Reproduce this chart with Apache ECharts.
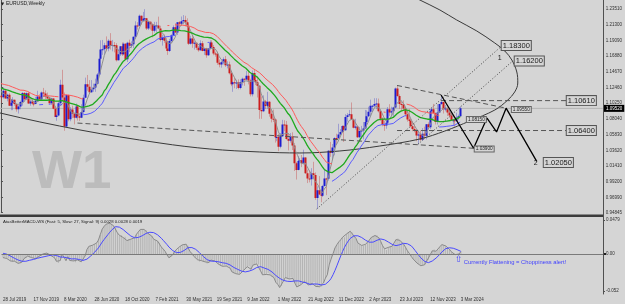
<!DOCTYPE html>
<html><head><meta charset="utf-8">
<script src="https://cdn.jsdelivr.net/npm/echarts@6/dist/echarts.min.js"></script>
<style>html,body{margin:0;padding:0;background:#d5d5d5}#c{width:625px;height:304px}</style>
</head><body><div id="c"></div><script>
// ---- warm-up weeks (Mar-Jul 2019, off screen, only feed the indicators) ----
const warmOpen  = [1.1365,1.1235,1.1325,1.1305,1.1220,1.1215,1.1300,1.1245,1.1150,1.1200,1.1235,1.1160,1.1205,1.1170,1.1330,1.1210,1.1370,1.1370,1.1225,1.1270,1.1220];
const warmHigh  = [1.1375,1.1340,1.1450,1.1325,1.1255,1.1325,1.1325,1.1265,1.1265,1.1265,1.1265,1.1215,1.1215,1.1350,1.1350,1.1385,1.1410,1.1380,1.1285,1.1285,1.1230];
const warmLow   = [1.1176,1.1210,1.1270,1.1210,1.1185,1.1210,1.1225,1.1110,1.1135,1.1165,1.1150,1.1105,1.1115,1.1160,1.1200,1.1180,1.1345,1.1205,1.1195,1.1200,1.1100];
const warmClose = [1.1235,1.1325,1.1305,1.1220,1.1215,1.1300,1.1245,1.1150,1.1200,1.1235,1.1160,1.1205,1.1170,1.1330,1.1210,1.1370,1.1370,1.1225,1.1270,1.1220,1.1125];

// ---- visible weekly bars: 28 Jul 2019 ... 3 Mar 2024 ----
const open = [
1.1130,1.1110,1.1200,1.1090,1.1145,1.0990,1.1030,1.1075,1.1015,1.0940,1.0980,1.1040,1.1170,1.1080,1.1165,1.1020,1.1050,1.1020,1.1015,1.1060,1.1120,1.1080,1.1175,
1.1160,1.1120,1.1090,1.1025,1.1090,1.0945,1.0830,1.0850,1.1025,1.1285,1.1105,1.0695,1.1140,1.0800,1.0935,1.0875,1.0820,1.0980,1.0840,1.0820,1.0900,1.1100,1.1290,1.1255,1.1180,1.1220,1.1245,1.1300,1.1430,1.1650,1.1780,1.1785,1.1840,1.1795,1.1905,1.1835,1.1845,1.1840,1.1630,1.1715,1.1825,1.1715,1.1860,1.1645,1.1875,1.1835,1.1855,1.1960,1.2120,1.2115,1.2255,1.2185,
1.2215,1.2220,1.2075,1.2170,1.2135,1.2045,1.2120,1.2120,1.2075,1.1915,1.1955,1.1905,1.1795,1.1760,1.1900,1.1980,1.2095,1.2020,1.2165,1.2145,1.2180,1.2195,1.2165,1.2105,1.1860,1.1935,1.1865,1.1875,1.1805,1.1770,1.1870,1.1760,1.1795,1.1700,1.1795,1.1880,1.1815,1.1725,1.1720,1.1595,1.1570,1.1600,1.1645,1.1560,1.1570,1.1445,1.1290,1.1320,1.1315,1.1315,1.1240,1.1320,
1.1370,1.1360,1.1410,1.1345,1.1150,1.1450,1.1350,1.1320,1.1270,1.0930,1.0910,1.1050,1.0985,1.1045,1.0875,1.0805,1.0795,1.0545,1.0550,1.0410,1.0560,1.0725,1.0720,1.0520,1.0495,1.0555,1.0430,1.0180,1.0085,1.0210,1.0220,1.0180,1.0260,1.0040,0.9965,0.9955,1.0040,1.0015,0.9690,0.9800,0.9740,0.9720,0.9860,0.9965,0.9960,1.0355,1.0325,1.0400,1.0535,1.0530,1.0585,1.0620,
1.0705,1.0645,1.0830,1.0855,1.0870,1.0795,1.0680,1.0695,1.0545,1.0635,1.0640,1.0670,1.0760,1.0840,1.0905,1.0990,1.0990,1.1015,1.1020,1.0910,1.0805,1.0720,1.0710,1.0750,1.0940,1.0895,1.0910,1.0965,1.1230,1.1125,1.1015,1.1005,1.0950,1.0870,1.0795,1.0775,1.0700,1.0660,1.0645,1.0570,1.0585,1.0510,1.0595,1.0565,1.0730,1.0685,1.0910,1.0940,1.0885,1.0760,1.0895,1.1015,1.1040,
1.0940,1.0950,1.0895,1.0850,1.0785,1.0785,1.0775,1.0820,1.0840];
const high = [
1.1140,1.1250,1.1230,1.1160,1.1165,1.1085,1.1110,1.1075,1.1025,1.0998,1.1060,1.1180,1.1180,1.1175,1.1180,1.1070,1.1095,1.1030,1.1115,1.1200,1.1150,1.1190,1.1240,
1.1205,1.1175,1.1100,1.1100,1.1095,1.0965,1.0865,1.1055,1.1355,1.1495,1.1175,1.1145,1.1145,1.0970,1.0990,1.0890,1.1020,1.0990,1.0880,1.1010,1.1145,1.1385,1.1422,1.1350,1.1350,1.1300,1.1370,1.1450,1.1655,1.1910,1.1915,1.1875,1.1965,1.1925,1.2011,1.1915,1.1885,1.1870,1.1790,1.1830,1.1880,1.1880,1.1870,1.1890,1.1920,1.1895,1.1965,1.2178,1.2165,1.2273,1.2260,1.2310,
1.2349,1.2225,1.2190,1.2175,1.2150,1.2170,1.2170,1.2243,1.2115,1.1990,1.1990,1.1945,1.1800,1.1930,1.1995,1.2120,1.2150,1.2165,1.2180,1.2245,1.2265,1.2255,1.2220,1.2145,1.1975,1.1975,1.1895,1.1880,1.1830,1.1910,1.1900,1.1805,1.1805,1.1800,1.1910,1.1910,1.1845,1.1750,1.1750,1.1640,1.1625,1.1670,1.1690,1.1615,1.1610,1.1465,1.1330,1.1385,1.1355,1.1360,1.1360,1.1385,
1.1375,1.1480,1.1480,1.1370,1.1485,1.1495,1.1395,1.1395,1.1275,1.1120,1.1135,1.1070,1.1185,1.1055,1.0925,1.0935,1.0810,1.0640,1.0595,1.0605,1.0790,1.0785,1.0775,1.0600,1.0605,1.0615,1.0465,1.0200,1.0280,1.0255,1.0295,1.0370,1.0265,1.0090,1.0080,1.0110,1.0200,1.0050,0.9855,0.9999,0.9810,0.9875,1.0095,0.9975,1.0365,1.0480,1.0450,1.0545,1.0595,1.0735,1.0660,1.0715,
1.0715,1.0870,1.0885,1.0930,1.1035,1.0805,1.0805,1.0705,1.0690,1.0705,1.0760,1.0930,1.0925,1.0975,1.1075,1.1000,1.1095,1.1095,1.1090,1.0930,1.0825,1.0780,1.0785,1.0970,1.1010,1.0975,1.0975,1.1245,1.1275,1.1150,1.1045,1.1065,1.0965,1.0930,1.0945,1.0800,1.0770,1.0735,1.0660,1.0640,1.0640,1.0675,1.0695,1.0730,1.0755,1.0915,1.0965,1.1015,1.0895,1.1010,1.1015,1.1140,1.1045,
1.1000,1.0970,1.0930,1.0895,1.0805,1.0805,1.0890,1.0865,1.0981];
const low = [
1.1027,1.1090,1.1090,1.1050,1.0985,1.0926,1.0927,1.0990,1.0905,1.0879,1.0940,1.0990,1.1070,1.1075,1.1015,1.0990,1.1015,1.0980,1.1010,1.1040,1.1065,1.1065,1.1125,
1.1085,1.1085,1.1020,1.1000,1.0940,1.0830,1.0777,1.0840,1.1015,1.1055,1.0636,1.0690,1.0770,1.0770,1.0815,1.0727,1.0810,1.0780,1.0775,1.0815,1.0870,1.1095,1.1200,1.1170,1.1170,1.1185,1.1185,1.1300,1.1420,1.1640,1.1705,1.1710,1.1755,1.1755,1.1780,1.1755,1.1740,1.1612,1.1625,1.1690,1.1690,1.1700,1.1640,1.1605,1.1745,1.1800,1.1800,1.1925,1.2060,1.2110,1.2130,1.2180,
1.2195,1.2055,1.2055,1.2060,1.1952,1.2020,1.2020,1.2070,1.1895,1.1835,1.1875,1.1760,1.1705,1.1745,1.1870,1.1975,1.2015,1.1985,1.2050,1.2115,1.2135,1.2105,1.2095,1.1845,1.1850,1.1805,1.1780,1.1775,1.1750,1.1765,1.1755,1.1705,1.1665,1.1690,1.1780,1.1800,1.1700,1.1680,1.1565,1.1530,1.1525,1.1570,1.1535,1.1515,1.1430,1.1265,1.1185,1.1235,1.1225,1.1220,1.1220,1.1275,
1.1270,1.1350,1.1290,1.1120,1.1120,1.1340,1.1280,1.1105,1.0805,1.0805,1.0900,1.0945,1.0945,1.0835,1.0755,1.0760,1.0470,1.0490,1.0350,1.0390,1.0550,1.0630,1.0510,1.0360,1.0470,1.0365,1.0070,0.9950,1.0080,1.0100,1.0125,1.0160,1.0030,0.9900,0.9910,0.9865,0.9955,0.9665,0.9535,0.9730,0.9630,0.9705,0.9850,0.9730,0.9935,1.0270,1.0225,1.0290,1.0445,1.0525,1.0575,1.0615,
1.0480,1.0635,1.0765,1.0835,1.0795,1.0670,1.0655,1.0535,1.0530,1.0525,1.0515,1.0665,1.0715,1.0830,1.0830,1.0910,1.0965,1.0940,1.0895,1.0775,1.0700,1.0635,1.0665,1.0730,1.0845,1.0835,1.0835,1.0955,1.1115,1.0945,1.0910,1.0915,1.0845,1.0765,1.0770,1.0685,1.0630,1.0615,1.0490,1.0448,1.0495,1.0495,1.0520,1.0515,1.0655,1.0660,1.0850,1.0880,1.0725,1.0725,1.0890,1.1000,1.0880,
1.0910,1.0845,1.0820,1.0780,1.0720,1.0695,1.0760,1.0795,1.0835];
const close = [
1.1110,1.1200,1.1090,1.1145,1.0990,1.1030,1.1075,1.1015,1.0940,1.0980,1.1040,1.1170,1.1080,1.1165,1.1020,1.1050,1.1020,1.1015,1.1060,1.1120,1.1080,1.1175,1.1160,
1.1120,1.1090,1.1025,1.1090,1.0945,1.0830,1.0850,1.1025,1.1285,1.1105,1.0695,1.1140,1.0800,1.0935,1.0875,1.0820,1.0980,1.0840,1.0820,1.0900,1.1100,1.1290,1.1255,1.1180,1.1220,1.1245,1.1300,1.1430,1.1650,1.1780,1.1785,1.1840,1.1795,1.1905,1.1835,1.1845,1.1840,1.1630,1.1715,1.1825,1.1715,1.1860,1.1645,1.1875,1.1835,1.1855,1.1960,1.2120,1.2115,1.2255,1.2185,1.2215,
1.2220,1.2075,1.2170,1.2135,1.2045,1.2120,1.2120,1.2075,1.1915,1.1955,1.1905,1.1795,1.1760,1.1900,1.1980,1.2095,1.2020,1.2165,1.2145,1.2180,1.2195,1.2165,1.2105,1.1860,1.1935,1.1865,1.1875,1.1805,1.1770,1.1870,1.1760,1.1795,1.1700,1.1795,1.1880,1.1815,1.1725,1.1720,1.1595,1.1570,1.1600,1.1645,1.1560,1.1570,1.1445,1.1290,1.1320,1.1315,1.1315,1.1240,1.1320,1.1370,
1.1360,1.1410,1.1345,1.1150,1.1450,1.1350,1.1320,1.1270,1.0930,1.0910,1.1050,1.0985,1.1045,1.0875,1.0805,1.0795,1.0545,1.0550,1.0410,1.0560,1.0725,1.0720,1.0520,1.0495,1.0555,1.0430,1.0180,1.0085,1.0210,1.0220,1.0180,1.0260,1.0040,0.9965,0.9955,1.0040,1.0015,0.9690,0.9800,0.9740,0.9720,0.9860,0.9965,0.9960,1.0355,1.0325,1.0400,1.0535,1.0530,1.0585,1.0620,1.0705,
1.0645,1.0830,1.0855,1.0870,1.0795,1.0680,1.0695,1.0545,1.0635,1.0640,1.0670,1.0760,1.0840,1.0905,1.0990,1.0990,1.1015,1.1020,1.0910,1.0805,1.0720,1.0710,1.0750,1.0940,1.0895,1.0910,1.0965,1.1230,1.1125,1.1015,1.1005,1.0950,1.0870,1.0795,1.0775,1.0700,1.0660,1.0645,1.0570,1.0585,1.0510,1.0595,1.0565,1.0730,1.0685,1.0910,1.0940,1.0885,1.0760,1.0895,1.1015,1.1040,1.0940,
1.0950,1.0895,1.0850,1.0785,1.0785,1.0775,1.0820,1.0840,1.0952];

const dateLabels = ['28 Jul 2019','17 Nov 2019','8 Mar 2020','28 Jun 2020','18 Oct 2020','7 Feb 2021','30 May 2021','19 Sep 2021','9 Jan 2022','1 May 2022','21 Aug 2022','11 Dec 2022','2 Apr 2023','23 Jul 2023','12 Nov 2023','3 Mar 2024'];
const priceTicks = [1.23510,1.21300,1.19090,1.16880,1.14670,1.12460,1.10250,1.08040,1.05830,1.03620,1.01410,0.99200,0.96990,0.94845];
const macdTicks = [0.0479, 0, -0.052];
const macdTickLabels = ['0.0479', '0.00', '-0.052'];
const bidPrice = 1.0952;
const macdTitle = 'AtasBetterMACD-WS (Fast: 5, Slow: 27, Signal: 9) 0.0028 0.0028 0.0019';

// ---- hand-drawn analysis objects, in (week index, price) ----
const ellipseArc = [[-16.2,1.1014],[-0.5,1.0887],[41.3,1.0648],[83.1,1.0464],[109.2,1.0380],[135.3,1.0338],[156.2,1.0324],[177.1,1.0352],[198.0,1.0422],[218.9,1.0521],[232.0,1.0633],[245.0,1.0774],[258.1,1.0929],[264.9,1.1070],[268.5,1.1183],[270.1,1.1309],[269.6,1.1464],[267.0,1.1633],[263.3,1.1760],[258.1,1.1872],[248.7,1.2041],[238.2,1.2196],[229.4,1.2337],[218.9,1.2478],[208.5,1.2619]];
const supportLine = [[40,1.0745],[247,1.0390]];
const resistLine  = [[207,1.1275],[264,1.0955]];
const levelHigh   = [[230,1.1061],[295.7,1.1061]];
const levelLow    = [[207,1.0640],[295.7,1.0640]];
const channelA    = [[165,0.9535],[261.7,1.1830]];
const channelB    = [[218,1.0448],[267.5,1.1620]];
const zigzag      = [[230,1.1140],[247,1.0390],[254,1.0815],[259,1.0620],[264,1.0955],[280,1.0205]];
const boxLabels   = [['1.18300',261.7,1.1837],['1.16200',268.5,1.1619],['1.10610',295.7,1.1061],['1.06400',295.7,1.0640],['1.02050',283.7,1.0190]];
const smallLabels = [['1.09550',267,1.0936],['1.08150',243.5,1.0795],['1.03900',247.6,1.0380]];
const waveLabels  = [['1',260.7,1.166],['2',279.4,1.0179]];
const macdNote = 'Currently Flattening = Choppiness alert!';

const N_CAT = 315;
const F = 'Liberation Sans';

function sma(a,n){return a.map((_,i)=>{if(i<n-1)return null;let s=0;for(let k=i-n+1;k<=i;k++)s+=a[k];return s/n;});}
function ema(a,n){const k=2/(n+1);let e=a[0];return a.map((v,i)=>{e=i===0?v:v*k+e*(1-k);return e;});}

const W = warmClose.length;
const fC = warmClose.concat(close), fH = warmHigh.concat(high), fL = warmLow.concat(low);
const midFull = sma(fC,21);
const mid = midFull.slice(W), maH = sma(fH,21).slice(W), maL = sma(fL,21).slice(W), fast = sma(fC,5).slice(W);
const e5 = ema(fC,5), e27 = ema(fC,27);
const macdFull = e5.map((v,i)=>v-e27[i]);
const sigFull = sma(macdFull,9);
const macd = macdFull.slice(W), signal = sigFull.slice(W);

// trend state of the middle line (2-bar slope) decides which band line is drawn
const slope = j => { const a = midFull[j+W], b = midFull[j+W-2]; return (a==null||b==null) ? 0 : a-b; };
const falling = j => j>=0 && j<mid.length && slope(j) < 0;
const rising  = j => j>=0 && j<mid.length && slope(j) > 0;
const redData  = mid.map((v,i)=> (falling(i)||falling(i+1)) ? [i,maH[i]] : [i,'-']);
const blueData = mid.map((v,i)=> (rising(i)||rising(i+1)) ? [i,maL[i]] : [i,'-']);

const cats = Array.from({length:N_CAT},(_,i)=>String(i));
const showIdx = (i)=> i%16===0 && i/16 < dateLabels.length;

function lineS(data, color, width, type, extra){
  return Object.assign({type:'line', xAxisIndex:0, yAxisIndex:0, data, symbol:'none', silent:true, animation:false,
    lineStyle:{color, width, type}, z:5}, extra||{});
}

const option = {
  backgroundColor:'#d5d5d5',
  animation:false,
  grid:[{left:0, top:0, width:603, height:212.6},{left:0, top:218, width:603, height:76}],
  xAxis:[
    {type:'value', gridIndex:0, min:-0.5, max:N_CAT-0.5, show:false},
    {type:'category', gridIndex:1, data:cats, boundaryGap:true,
      axisLine:{lineStyle:{color:'#505050'}},
      axisTick:{interval:(i)=>showIdx(i), alignWithLabel:true, length:2, lineStyle:{color:'#505050'}},
      axisLabel:{interval:(i)=>showIdx(i), formatter:(v,i)=>dateLabels[i/16]||'', fontSize:4.5, fontFamily:F, color:'#303030', align:'left', margin:3},
      splitLine:{show:false}}
  ],
  yAxis:[
    {type:'value', gridIndex:0, position:'right', min:0.94845, max:1.24777, scale:true,
      axisLine:{show:true, lineStyle:{color:'#505050'}},
      axisTick:{show:true, length:2, customValues:priceTicks, lineStyle:{color:'#505050'}},
      axisLabel:{customValues:priceTicks, formatter:v=>Number(v).toFixed(5), fontSize:4.5, fontFamily:F, color:'#303030', margin:3},
      splitLine:{show:false}},
    {type:'value', gridIndex:1, position:'right', min:-0.0564, max:0.0507,
      axisLine:{show:true, lineStyle:{color:'#505050'}},
      axisTick:{show:true, length:2, customValues:macdTicks, lineStyle:{color:'#505050'}},
      axisLabel:{customValues:macdTicks, formatter:v=>{const k=macdTicks.findIndex(t=>Math.abs(t-v)<1e-9);return k>=0?macdTickLabels[k]:'';}, fontSize:4.5, fontFamily:F, color:'#303030', margin:3},
      splitLine:{show:false}}
  ],
  series:[
    lineS([[-0.5,bidPrice],[N_CAT-0.5,bidPrice]], '#b4b4b4', 1, 'solid', {z:1}),
    {type:'custom', xAxisIndex:0, yAxisIndex:0, z:3, clip:true,
      data: close.map((c,i)=>[i, open[i], high[i], low[i], c]),
      encode:{x:0, y:[1,2,3,4]},
      renderItem:(params, api)=>{
        const i=api.value(0), o=api.value(1), h=api.value(2), l=api.value(3), c=api.value(4);
        const ph=api.coord([i,h]), pl=api.coord([i,l]), po=api.coord([i,o]), pc=api.coord([i,c]);
        const up = c>=o;
        const x = Math.round(ph[0]);
        const top=Math.min(po[1],pc[1]), bot=Math.max(po[1],pc[1]);
        return {type:'group', children:[
          {type:'line', shape:{x1:x+0.5,y1:ph[1],x2:x+0.5,y2:pl[1]}, style:{stroke: up?'rgba(90,90,200,0.45)':'rgba(200,80,80,0.45)', lineWidth:1}},
          {type:'rect', shape:{x:x-0.5, y:top, width:2, height:Math.max(1,bot-top)}, style:{fill: up?'#1c1cd0':'#cc1c1c'}}
        ]};
      }},
    lineS(fast.map((v,i)=>[i,v]), '#8e8e8e', 1, 'solid'),
    lineS(redData, '#ff5a5a', 1, 'solid'),
    lineS(blueData, '#5a5aff', 1, 'solid'),
    lineS(mid.map((v,i)=>[i,v]), '#1faa1f', 1.3, 'solid'),
    lineS(ellipseArc, '#3a3a3a', 1, 'solid', {smooth:0.35, z:4}),
    lineS(supportLine, '#555555', 1, [5,3]),
    lineS(resistLine, '#555555', 1, [5,3]),
    lineS(levelHigh, '#555555', 1, [5,3]),
    lineS(levelLow, '#555555', 1, [5,3]),
    lineS(channelA, '#444444', 1, [1,2]),
    lineS(channelB, '#444444', 1, [1,2]),
    lineS(zigzag, '#000000', 1.3, 'solid', {z:6}),
    // MACD panel
    {type:'bar', xAxisIndex:1, yAxisIndex:1, data:macd, barWidth:1, silent:true,
      itemStyle:{color:'#b4b4b4'},
      markLine:{silent:true, symbol:'none', label:{show:false}, data:[{yAxis:0}], lineStyle:{color:'#7a7a7a', type:'solid', width:1}}},
    {type:'line', xAxisIndex:1, yAxisIndex:1, data:macd, symbol:'none', silent:true, lineStyle:{color:'#8a8a8a', width:1}},
    {type:'line', xAxisIndex:1, yAxisIndex:1, data:signal, symbol:'none', silent:true, lineStyle:{color:'#4a4aff', width:1}}
  ]
};

const chart = echarts.init(document.getElementById('c'), null, {renderer:'canvas'});
chart.setOption(option);

const px = p => chart.convertToPixel({xAxisIndex:0, yAxisIndex:0}, p);
const g = [];
g.push({type:'text', z:0, x:32, y:173, style:{text:'W1', fill:'#bcbcbc', font:'bold 53px "Liberation Sans"', verticalAlign:'middle'}});
g.push({type:'text', z:50, x:1, y:3.5, style:{text:'▼', fill:'#202020', fontSize:4, fontFamily:'DejaVu Sans', verticalAlign:'middle'}});
g.push({type:'text', z:50, x:6, y:3.5, style:{text:'EURUSD,Weekly', fill:'#202020', fontSize:5, fontFamily:F, verticalAlign:'middle'}});
g.push({type:'rect', z:50, shape:{x:0, y:214.5, width:603, height:2.5}, style:{fill:'#3c3c3c'}});
g.push({type:'line', z:50, shape:{x1:603.5, y1:0, x2:603.5, y2:294}, style:{stroke:'#505050', lineWidth:1}});
g.push({type:'text', z:50, x:3, y:221.5, style:{text:macdTitle, fill:'#202020', fontSize:4.3, fontFamily:F, verticalAlign:'middle'}});
const bp = px([0, bidPrice]);
g.push({type:'text', z:60, x:604, y:bp[1], style:{text:bidPrice.toFixed(5), fill:'#ffffff', fontSize:4.5, fontFamily:F, backgroundColor:'#000000', padding:[1,2,1,2], verticalAlign:'middle'}});
boxLabels.forEach(([t,i,p])=>{const q=px([i,p]); g.push({type:'text', z:60, x:q[0], y:q[1], style:{text:t, fill:'#1a1a1a', fontSize:7.5, fontFamily:F, backgroundColor:'#d5d5d5', borderColor:'#555555', borderWidth:1, padding:[1,1,0,1], verticalAlign:'middle'}});});
smallLabels.forEach(([t,i,p])=>{const q=px([i,p]); g.push({type:'text', z:60, x:q[0], y:q[1], style:{text:t, fill:'#1a1a1a', fontSize:4.7, fontFamily:F, backgroundColor:'#d5d5d5', borderColor:'#666666', borderWidth:1, padding:[0,1,0,1], verticalAlign:'middle'}});});
waveLabels.forEach(([t,i,p])=>{const q=px([i,p]); g.push({type:'text', z:60, x:q[0], y:q[1], style:{text:t, fill:'#1a1a1a', fontSize:7, fontFamily:F, align:'center', verticalAlign:'middle'}});});
const mp = chart.convertToPixel({xAxisIndex:1, yAxisIndex:1}, [240, 0]);
g.push({type:'text', z:60, x:mp[0]-2, y:mp[1]+6, style:{text:'⇧', fill:'#4040ff', fontSize:9, fontFamily:'DejaVu Sans', align:'center', verticalAlign:'middle'}});
g.push({type:'text', z:60, x:mp[0]+3, y:mp[1]+8, style:{text:macdNote, fill:'#4040ff', fontSize:5.8, fontFamily:F, verticalAlign:'middle'}});
g.push({type:'rect', z:60, shape:{x:604, y:mp[1]-1, width:2, height:2}, style:{fill:'#202020'}});
chart.setOption({graphic:g});
</script></body></html>
